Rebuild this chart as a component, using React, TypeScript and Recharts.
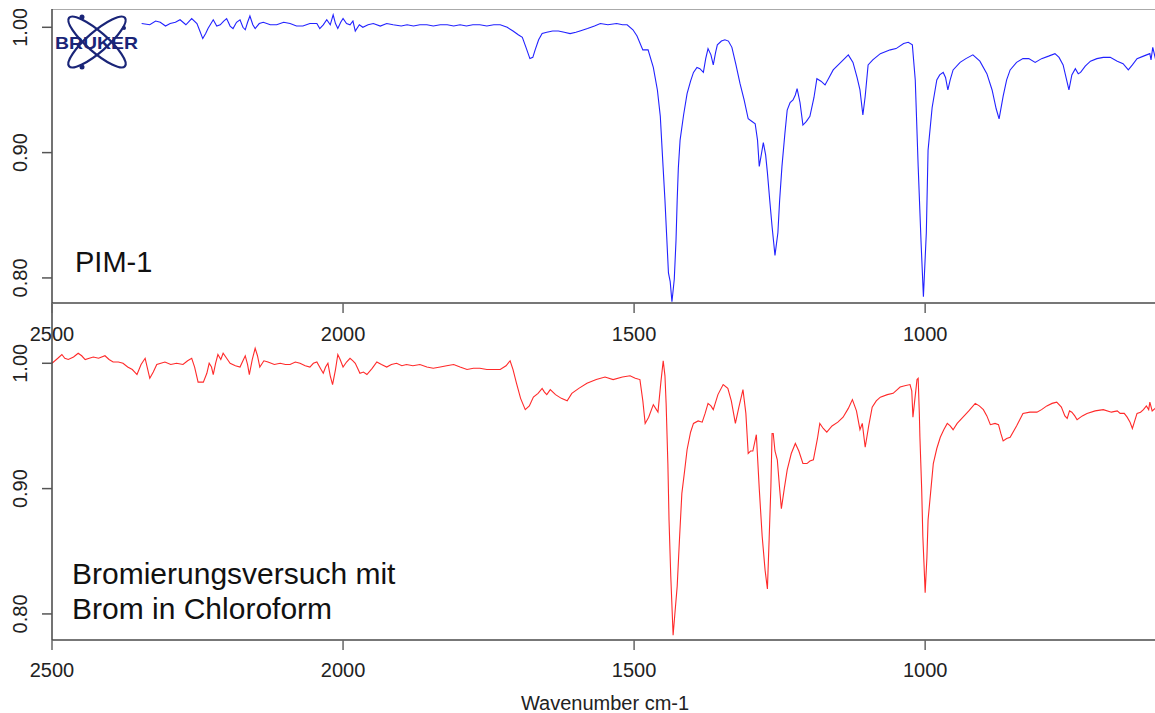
import { LineChart, Line, XAxis, YAxis, ReferenceLine } from "recharts";

// PIM-1 (blue), wavenumber in cm-1 and transmittance
const BLUE_WN = [
  2346, 2332, 2322, 2314, 2305, 2297, 2288, 2280, 2270, 2260, 2251, 2246, 2241, 2236, 2232, 2223, 2217, 2211,
  2205, 2200, 2194, 2189, 2183, 2177, 2172, 2168, 2164, 2160, 2155, 2151, 2144, 2137, 2125, 2114, 2102, 2091,
  2080, 2069, 2057, 2045, 2040, 2034, 2028, 2022, 2017, 2013, 2009, 2004, 2000, 1994, 1988, 1983, 1979, 1972,
  1966, 1957, 1948, 1936, 1925, 1914, 1900, 1890, 1879, 1868, 1856, 1845, 1833, 1821, 1810, 1799, 1788, 1777,
  1765, 1753, 1741, 1730, 1718, 1708, 1699, 1692, 1685, 1679, 1674, 1670, 1664, 1658, 1650, 1640, 1630, 1620,
  1610, 1600, 1593, 1580, 1568, 1558, 1545, 1530, 1520, 1512, 1502, 1495, 1485, 1476, 1467, 1460, 1455, 1451,
  1447, 1444, 1441, 1438, 1435, 1431, 1428, 1426, 1424, 1421, 1415, 1409, 1403, 1398, 1392, 1387, 1381, 1377,
  1373, 1368, 1364, 1360, 1357, 1350, 1344, 1338, 1332, 1325, 1318, 1311, 1304, 1298, 1292, 1288, 1285, 1282,
  1278, 1274, 1271, 1267, 1263, 1258, 1253, 1250, 1246, 1241, 1237, 1232, 1227, 1223, 1220, 1215, 1210, 1204,
  1198, 1191, 1186, 1179, 1172, 1165, 1158, 1145, 1132, 1124, 1117, 1112, 1107, 1103, 1098, 1090, 1077, 1060,
  1050, 1037, 1029, 1022, 1017, 1012, 1007, 1003, 998, 995, 988, 980, 975, 969, 965, 961, 957, 952, 940, 930,
  918, 906, 894, 885, 878, 873, 866, 860, 854, 843, 832, 822, 811, 800, 788, 777, 770, 763, 753, 748, 742, 737,
  733, 725, 716, 705, 694, 682, 670, 660, 651, 644, 636, 625, 614, 612, 609, 605, 601,
];
const BLUE_T = [
  1.003, 1.002, 1.005, 1.004, 1.001, 1.003, 1.004, 1.006, 1.002, 1.007, 1.003, 0.997, 0.991, 0.995, 0.999, 1.006, 1.001, 1.002,
  1.005, 1.007, 1.001, 0.999, 1.004, 1.006, 1.0, 0.998, 1.004, 1.009, 1.002, 0.999, 1.003, 1.004, 1.002, 1.002, 1.004, 1.003,
  1.001, 1.001, 1.003, 1.003, 0.999, 1.002, 1.006, 1.002, 1.01, 1.003, 0.999, 1.004, 1.007, 1.003, 1.002, 1.005, 0.997, 1.002,
  1.0, 1.002, 1.003, 1.001, 1.003, 1.002, 1.001, 1.002, 1.001, 1.002, 1.002, 1.001, 1.002, 1.002, 1.001, 1.002, 1.001, 1.002,
  1.002, 1.001, 1.002, 1.002, 1.0, 0.997, 0.994, 0.992, 0.983, 0.975, 0.976, 0.982, 0.99, 0.995, 0.996, 0.997, 0.997, 0.996,
  0.995, 0.996, 0.997, 0.999, 1.001, 1.003, 1.002, 1.003, 1.002, 1.002, 0.998, 0.993, 0.982, 0.982, 0.968, 0.95, 0.929, 0.895,
  0.862, 0.833, 0.804, 0.797, 0.781, 0.799, 0.83, 0.862, 0.888, 0.91, 0.93, 0.947, 0.957, 0.964, 0.968, 0.967, 0.964, 0.975,
  0.983, 0.978, 0.97, 0.98, 0.986, 0.989, 0.99, 0.989, 0.984, 0.97, 0.955, 0.942, 0.927, 0.925, 0.923, 0.91, 0.889, 0.897,
  0.908, 0.898, 0.884, 0.862, 0.841, 0.818, 0.836, 0.862, 0.889, 0.915, 0.934, 0.94, 0.942, 0.946, 0.951, 0.94, 0.922, 0.925,
  0.929, 0.944, 0.959, 0.957, 0.954, 0.96, 0.966, 0.972, 0.978, 0.972, 0.96, 0.95, 0.93, 0.945, 0.97, 0.974, 0.979, 0.982,
  0.983, 0.987, 0.988, 0.986, 0.958, 0.889, 0.828, 0.785, 0.836, 0.902, 0.936, 0.958, 0.962, 0.964, 0.96, 0.95, 0.958, 0.966, 0.972, 0.975,
  0.978, 0.973, 0.963, 0.95, 0.935, 0.927, 0.945, 0.958, 0.966, 0.972, 0.975, 0.975, 0.972, 0.975, 0.977, 0.979, 0.976, 0.97, 0.95, 0.962, 0.967, 0.963,
  0.964, 0.969, 0.973, 0.975, 0.976, 0.976, 0.973, 0.971, 0.966, 0.97, 0.975, 0.977, 0.979, 0.974, 0.984, 0.976, 0.98,
];

// Bromination attempt (red)
const RED_WN = [
  2500, 2490, 2483, 2478, 2472, 2463, 2455, 2449, 2443, 2436, 2429, 2420, 2409, 2402, 2395, 2386, 2378, 2370,
  2362, 2354, 2347, 2340, 2336, 2332, 2326, 2320, 2313, 2306, 2296, 2286, 2275, 2267, 2260, 2255, 2249, 2240,
  2234, 2230, 2226, 2223, 2219, 2215, 2210, 2206, 2200, 2194, 2185, 2177, 2172, 2168, 2164, 2161, 2156, 2151,
  2147, 2143, 2136, 2129, 2118, 2108, 2099, 2091, 2082, 2074, 2065, 2057, 2051, 2045, 2039, 2034, 2030, 2026,
  2022, 2018, 2013, 2009, 2005, 2000, 1994, 1988, 1983, 1979, 1975, 1971, 1965, 1959, 1950, 1942, 1934, 1925,
  1917, 1908, 1899, 1891, 1880, 1868, 1856, 1845, 1833, 1822, 1810, 1799, 1787, 1776, 1765, 1753, 1741, 1730,
  1720, 1713, 1708, 1702, 1695, 1687, 1680, 1673, 1665, 1658, 1654, 1650, 1644, 1635, 1625, 1615, 1607, 1595,
  1581, 1565, 1550, 1536, 1520, 1507, 1498, 1490, 1485, 1481, 1475, 1467, 1459, 1454, 1450, 1447, 1445, 1442,
  1440, 1437, 1433, 1430, 1426, 1422, 1418, 1413, 1409, 1403, 1398, 1390, 1383, 1378, 1373, 1368, 1364, 1356,
  1347, 1339, 1333, 1326, 1320, 1313, 1308, 1304, 1300, 1296, 1290, 1285, 1280, 1275, 1271, 1268, 1265, 1263,
  1261, 1258, 1254, 1250, 1247, 1242, 1237, 1230, 1223, 1217, 1210, 1203, 1198, 1192, 1185, 1181, 1175, 1169,
  1160, 1150, 1141, 1132, 1125, 1118, 1112, 1108, 1103, 1097, 1091, 1084, 1077, 1065, 1055, 1043, 1035, 1026,
  1023, 1021, 1018, 1014, 1012, 1010, 1009, 1006, 1004, 1002, 1000, 997, 995, 990, 986, 980, 974, 968, 962,
  957, 952, 945, 937, 925, 914, 907, 900, 894, 888, 880, 874, 870, 866, 860, 854, 843, 832, 820, 808, 800, 791,
  782, 774, 766, 760, 756, 752, 748, 743, 739, 730, 722, 708, 694, 680, 670, 665, 658, 653, 648, 644, 640, 636,
  630, 625, 620, 616, 614, 610, 605, 601,
];
const RED_T = [
  1.0, 1.004, 1.007, 1.004, 1.003, 1.005, 1.008, 1.006, 1.003, 1.004, 1.005, 1.004, 1.006, 1.003, 1.001, 1.001, 1.0, 0.997,
  0.995, 0.991, 0.999, 1.004, 0.996, 0.988, 0.993, 0.999, 1.0, 1.001, 0.999, 1.0, 0.999, 1.002, 1.004, 0.997, 0.985, 0.985,
  0.992, 1.0, 0.997, 0.991, 1.0, 1.007, 1.003, 1.008, 1.004, 1.0, 0.998, 0.997, 1.002, 1.006, 0.999, 0.991, 1.003, 1.012,
  1.006, 0.997, 1.002, 1.001, 0.999, 1.0, 0.999, 0.999, 1.001, 1.0, 0.998, 0.997, 1.0, 1.001, 0.996, 0.992, 0.997, 1.0,
  0.99, 0.983, 0.995, 1.007, 1.003, 0.997, 1.001, 1.004, 1.002, 1.0, 0.996, 0.992, 0.993, 0.991, 0.996, 1.001, 0.999, 0.997,
  0.999, 1.0, 0.998, 0.999, 0.998, 0.999, 0.997, 0.996, 0.997, 0.998, 0.999, 0.997, 0.995, 0.996, 0.996, 0.995, 0.995, 0.995,
  0.998, 1.002, 0.995, 0.984, 0.972, 0.963, 0.966, 0.973, 0.976, 0.98, 0.977, 0.975, 0.979, 0.975, 0.972, 0.97, 0.976, 0.98,
  0.984, 0.987, 0.989, 0.987, 0.989, 0.99, 0.988, 0.987, 0.97, 0.952, 0.957, 0.967, 0.961, 0.985, 1.002, 0.99, 0.968, 0.92,
  0.875, 0.83, 0.783, 0.8, 0.822, 0.86, 0.896, 0.915, 0.931, 0.945, 0.952, 0.954, 0.953, 0.96, 0.968, 0.966, 0.963, 0.975,
  0.983, 0.98, 0.97, 0.952, 0.965, 0.979, 0.96, 0.928, 0.93, 0.93, 0.943, 0.9, 0.862, 0.835, 0.82, 0.86, 0.902, 0.944,
  0.944, 0.93, 0.923, 0.9, 0.884, 0.9, 0.915, 0.928, 0.936, 0.93, 0.92, 0.92, 0.922, 0.923, 0.94, 0.952, 0.948, 0.945,
  0.95, 0.953, 0.957, 0.964, 0.971, 0.962, 0.947, 0.952, 0.933, 0.95, 0.965, 0.97, 0.973, 0.975, 0.976, 0.981, 0.982, 0.983,
  0.978, 0.957, 0.97, 0.987, 0.988, 0.96, 0.941, 0.9, 0.862, 0.84, 0.817, 0.845, 0.875, 0.9, 0.92, 0.932, 0.941, 0.947, 0.952,
  0.95, 0.947, 0.952, 0.956, 0.962, 0.968, 0.966, 0.963, 0.958, 0.951, 0.952, 0.951, 0.944, 0.938, 0.94, 0.941, 0.95, 0.96, 0.961, 0.961, 0.963, 0.966,
  0.968, 0.969, 0.965, 0.958, 0.956, 0.962, 0.961, 0.958, 0.955, 0.958, 0.96, 0.962, 0.963, 0.961, 0.962, 0.96, 0.96, 0.957, 0.953, 0.948, 0.954, 0.96,
  0.961, 0.963, 0.966, 0.963, 0.969, 0.962, 0.964, 0.966,
];

const X_TICKS = [2500, 2000, 1500, 1000];
const Y_TICKS = [0.8, 0.9, 1.0];

const blueData = BLUE_WN.map((wn, i) => ({ wn, t: BLUE_T[i] }));
const redData = RED_WN.map((wn, i) => ({ wn, t: RED_T[i] }));

const FONT = "'Liberation Sans', Arial, sans-serif";

// rotated y labels, read bottom to top
const YTick = (props: any) => {
  const { y, payload } = props;
  const bx = 27;
  return (
    <text
      x={bx}
      y={y}
      transform={`rotate(-90, ${bx}, ${y})`}
      textAnchor="middle"
      fontFamily={FONT}
      fontSize={20}
      fill="#222"
    >
      {Number(payload.value).toFixed(2)}
    </text>
  );
};

const xTickStyle = { fontFamily: FONT, fontSize: 20, fill: "#222" };

function Panel({
  data,
  color,
  domainY,
  height,
  bottom,
  top,
  tickMargin,
  showTopBorder,
  title,
}: {
  data: { wn: number; t: number }[];
  color: string;
  domainY: [number, number];
  height: number;
  bottom: number;
  top: number;
  tickMargin: number;
  showTopBorder?: boolean;
  title?: string;
}) {
  return (
    <div style={{ position: "absolute", left: 0, top }}>
      <LineChart width={1160} height={height} data={data} margin={{ top: 0, right: 2, bottom: 0, left: 0 }}>
        <XAxis
          dataKey="wn"
          type="number"
          domain={[600, 2500]}
          reversed
          allowDataOverflow
          ticks={X_TICKS}
          height={bottom}
          tickSize={10}
          tickMargin={tickMargin}
          tick={xTickStyle}
          tickLine={{ stroke: "#666", strokeWidth: 1.5 }}
          axisLine={{ stroke: "#777", strokeWidth: 2 }}
          label={
            title
              ? { value: title, position: "insideBottom", offset: 3, fontFamily: FONT, fontSize: 20, fill: "#222" }
              : undefined
          }
        />
        <YAxis
          type="number"
          domain={domainY}
          allowDataOverflow
          ticks={Y_TICKS}
          width={52}
          tickSize={10}
          tick={<YTick />}
          tickLine={{ stroke: "#555", strokeWidth: 1.5 }}
          axisLine={{ stroke: "#444", strokeWidth: 1.5 }}
        />
        {showTopBorder && (
          <ReferenceLine y={domainY[1]} ifOverflow="visible" stroke="#aaa" strokeWidth={2} />
        )}
        <Line
          type="linear"
          dataKey="t"
          stroke={color}
          strokeWidth={1.1}
          dot={false}
          isAnimationActive={false}
        />
      </LineChart>
    </div>
  );
}

function BrukerLogo() {
  const navy = "#1a2578";
  return (
    <g transform="translate(97,42)">
      <ellipse rx={37} ry={10} transform="rotate(41)" fill="none" stroke={navy} strokeWidth={2.2} />
      <ellipse rx={37} ry={10} transform="rotate(-41)" fill="none" stroke={navy} strokeWidth={2.2} />
      <circle cx={-15} cy={-25} r={2.5} fill={navy} />
      <circle cx={-15} cy={25} r={2.5} fill={navy} />
      <circle cx={27} cy={-14} r={2} fill={navy} />
      <text
        x={-42}
        y={7}
        textLength={83}
        lengthAdjust="spacingAndGlyphs"
        fontFamily={FONT}
        fontWeight="bold"
        fontSize={17}
        fill={navy}
      >
        BRUKER
      </text>
    </g>
  );
}

export default function App() {
  return (
    <div
      style={{
        position: "absolute",
        left: 0,
        top: 0,
        width: 1155,
        height: 713,
        overflow: "hidden",
        background: "#fff",
      }}
    >
      <Panel
        data={redData}
        color="#ff2a2a"
        domainY={[0.7792, 1.0481]}
        height={410}
        bottom={73}
        top={303}
        tickMargin={13}
        title="Wavenumber cm-1"
      />
      <Panel
        data={blueData}
        color="#2222ff"
        domainY={[0.78, 1.0146]}
        height={336}
        bottom={42}
        top={9}
        tickMargin={14}
        showTopBorder
      />
      <svg
        width={1155}
        height={713}
        style={{ position: "absolute", left: 0, top: 0, pointerEvents: "none" }}
      >
        <BrukerLogo />
        <text x={75} y={272} fontFamily={FONT} fontSize={29} fill="#111">
          PIM-1
        </text>
        <text x={72} y={584} fontFamily={FONT} fontSize={30} fill="#111">
          Bromierungsversuch mit
        </text>
        <text x={72} y={619} fontFamily={FONT} fontSize={30} fill="#111">
          Brom in Chloroform
        </text>
      </svg>
    </div>
  );
}
